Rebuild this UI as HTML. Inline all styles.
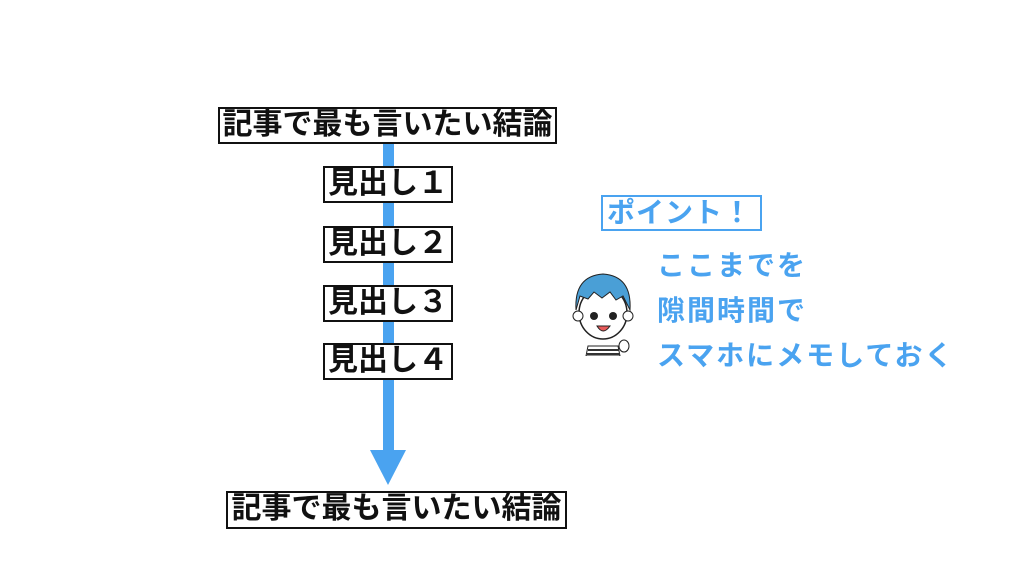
<!DOCTYPE html>
<html><head><meta charset="utf-8"><style>
body{margin:0;width:1024px;height:575px;background:#fff;position:relative;overflow:hidden;font-family:"Liberation Sans","Noto Sans CJK JP",sans-serif;font-weight:bold}
.b{position:absolute;border:2px solid #111;box-sizing:border-box;background:#fff;color:#111;font-size:30px;line-height:32px;text-align:center;white-space:nowrap;letter-spacing:0px}
.t{position:absolute;color:#4aa3f0;font-size:28px;white-space:nowrap;line-height:30px;letter-spacing:2px}
</style></head><body>
<div style="position:absolute;left:383px;top:140px;width:11px;height:315px;background:#4aa3f0"></div>
<svg style="position:absolute;left:0;top:0" width="1024" height="575"><polygon points="370,450 406,450 388,485" fill="#4aa3f0"/></svg>
<div class="b" style="left:218px;top:107px;width:339px;height:37px">記事で最も言いたい結論</div>
<div class="b" style="left:323px;top:166px;width:130px;height:37px">見出し１</div>
<div class="b" style="left:323px;top:226px;width:130px;height:37px">見出し２</div>
<div class="b" style="left:323px;top:285px;width:130px;height:37px">見出し３</div>
<div class="b" style="left:323px;top:343px;width:130px;height:37px">見出し４</div>
<div class="b" style="left:226px;top:491px;width:341px;height:38px">記事で最も言いたい結論</div>
<div style="position:absolute;left:601px;top:195px;width:161px;height:36px;border:2px solid #4aa3f0;box-sizing:border-box;color:#4aa3f0;font-size:28px;line-height:32px;padding-left:4px;letter-spacing:1px;white-space:nowrap">ポイント！</div>
<div class="t" style="left:657px;top:251px">ここまでを</div>
<div class="t" style="left:657px;top:296px">隙間時間で</div>
<div class="t" style="left:657px;top:341px">スマホにメモしておく</div>
<svg style="position:absolute;left:568px;top:266px" width="70" height="90" viewBox="0 0 70 90">
<ellipse cx="35" cy="47" rx="24" ry="26" fill="#fff" stroke="#222" stroke-width="1.5"/>
<circle cx="10" cy="50" r="5" fill="#fff" stroke="#222"/><circle cx="60" cy="50" r="5" fill="#fff" stroke="#222"/>
<path d="M8 44 Q6 10 35 8 Q64 10 62 44 L55 30 L48 34 L42 26 L34 32 L26 26 L20 33 L12 30 Z" fill="#4a9fd6" stroke="#222"/>
<circle cx="26" cy="50" r="4" fill="#222"/><circle cx="45" cy="50" r="4" fill="#222"/>
<path d="M29 60 Q35 70 42 60 Z" fill="#e85a5a" stroke="#222"/>
<path d="M20 80 L50 80 L52 90 L18 90 Z" fill="#fff" stroke="#222"/>
<rect x="20" y="83" width="31" height="2" fill="#333"/><rect x="19" y="87" width="33" height="2" fill="#333"/>
<ellipse cx="56" cy="80" rx="5" ry="6" fill="#fff" stroke="#222"/>
</svg>
</body></html>
